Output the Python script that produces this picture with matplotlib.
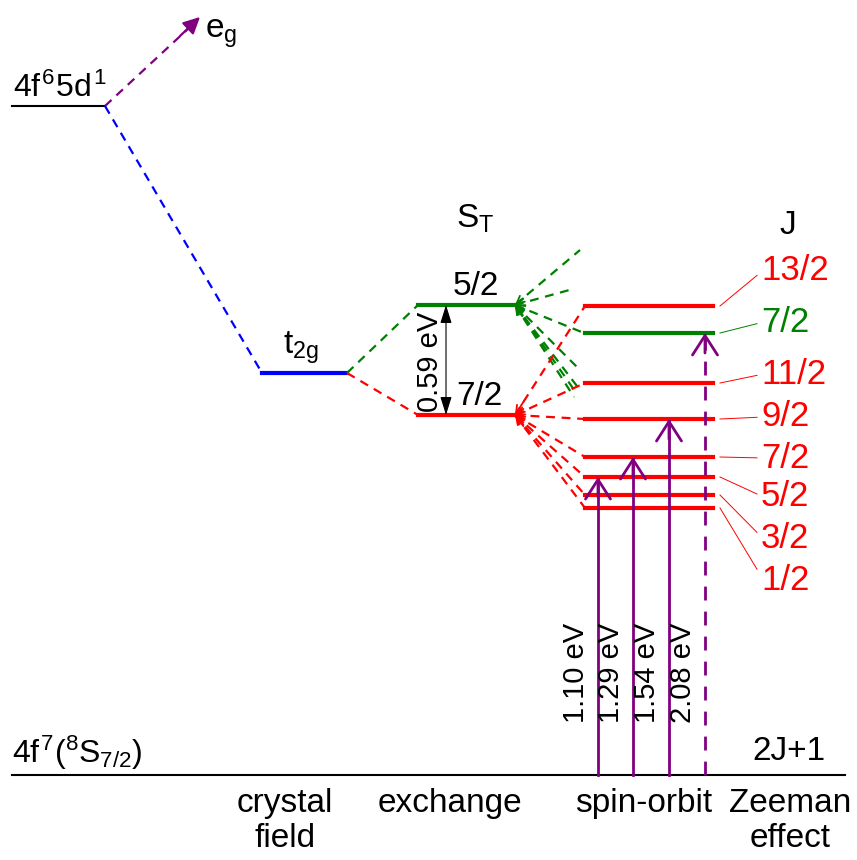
import matplotlib
matplotlib.use('Agg')
import matplotlib.pyplot as plt

plt.rcParams['font.family'] = ['Liberation Sans', 'DejaVu Sans']
plt.rcParams['mathtext.fontset'] = 'custom'
plt.rcParams['mathtext.rm'] = 'Liberation Sans'
plt.rcParams['mathtext.it'] = 'Liberation Sans'
plt.rcParams['mathtext.bf'] = 'Liberation Sans:bold'

RED = '#ff0000'
GREEN = '#008000'
BLUE = '#0000ff'
PURPLE = '#800080'

# --- level scheme (vertical position in picture units, top = 0) ---
y_5d = 106          # 4f6 5d1
y_ground = 775      # 4f7 (8S7/2)
y_t2g = 373
exch_labels = ['5/2', '7/2']
exch_y = [305, 415]
exch_colors = [GREEN, RED]

# spin-orbit levels J
so_labels = ['13/2', '7/2', '11/2', '9/2', '7/2', '5/2', '3/2', '1/2']
so_y = [306, 333, 383, 419, 457, 477, 495, 508]
so_colors = [RED, GREEN, RED, RED, RED, RED, RED, RED]
so_label_y = [270, 322, 374, 417, 458, 497, 539, 580]

# dashed fan from the exchange levels
red_fan_targets = [0, 2, 3, 4, 5, 6, 7]          # index in so_y
green_fan_ends = [(580, 250), (573, 289), (584, 333), (578, 368),
                  (580, 390), (577, 394), (574, 397)]

# optical transitions
trans_labels = ['1.10 eV', '1.29 eV', '1.54 eV', '2.08 eV']
trans_x = [598, 633, 669, 705]
trans_to = [5, 4, 3, 1]
trans_dashed = [False, False, False, True]

step_labels = ['crystal\nfield', 'exchange', 'spin-orbit', 'Zeeman\neffect']
step_x = [285, 450, 644, 790]

FS = 24
DASH = (0, (4, 3))

fig = plt.figure(figsize=(8.57, 8.60), dpi=100)
ax = fig.add_axes([0, 0, 1, 1])
ax.set_xlim(0, 857)
ax.set_ylim(860, 0)
ax.axis('off')


def head(x0, y0, x1, y1, color, filled=False, lw=1.6, scale=18):
    # arrow head at (x1, y1), pointing from (x0, y0)
    style = '-|>' if filled else '->'
    ax.annotate('', xy=(x1, y1), xytext=(x0, y0),
                arrowprops=dict(arrowstyle=style + ',head_length=0.5,head_width=0.25',
                                color=color, lw=lw, mutation_scale=scale,
                                shrinkA=0, shrinkB=0))


# left side levels
ax.plot([12, 105], [y_5d, y_5d], color='k', lw=1.5)
ax.plot([12, 845], [y_ground, y_ground], color='k', lw=1.5)
ax.text(13, 97, r'$4f^{6}5d^{1}$', fontsize=FS - 1, ha='left', va='baseline')
ax.text(12, 763, r'$4f^{7}(^{8}S_{7/2})$', fontsize=FS - 1, ha='left', va='baseline')

# e_g
ax.plot([105, 190], [y_5d, 27], color=PURPLE, lw=1.6, ls=DASH)
head(180, 36, 200, 17, PURPLE, filled=True, scale=20)
ax.text(205, 38, r'$e_{g}$', fontsize=FS, ha='left', va='baseline')

# t2g
ax.plot([105, 262], [y_5d, y_t2g], color=BLUE, lw=1.6, ls=DASH)
ax.plot([262, 347], [y_t2g, y_t2g], color=BLUE, lw=3)
ax.text(283, 354, r'$t_{2g}$', fontsize=FS, ha='left', va='baseline')

# exchange levels
for lab, y, c in zip(exch_labels, exch_y, exch_colors):
    ax.plot([347, 418], [y_t2g, y], color=c, lw=1.6, ls=DASH)
    ax.plot([418, 515], [y, y], color=c, lw=3)
ax.text(453, 295, exch_labels[0], fontsize=FS, ha='left', va='baseline')
ax.text(456, 405, exch_labels[1], fontsize=FS, ha='left', va='baseline')
ax.text(456, 228, r'$S_{T}$', fontsize=FS, ha='left', va='baseline')

ax.annotate('', xy=(446, exch_y[0]), xytext=(446, exch_y[1]),
            arrowprops=dict(arrowstyle='<|-|>,head_length=0.8,head_width=0.25',
                            color='k', lw=0.8, mutation_scale=14,
                            shrinkA=0, shrinkB=0))
ax.text(430, 362, '0.59 eV', fontsize=21, rotation=90, ha='center', va='center')

# dashed fans
for ex, ey in green_fan_ends:
    ax.plot([515, ex], [exch_y[0], ey], color=GREEN, lw=1.6, ls=DASH)
    head(515 + (ex - 515) * 0.12, exch_y[0] + (ey - exch_y[0]) * 0.12,
         515, exch_y[0], GREEN, lw=1.3, scale=11)
for i in red_fan_targets:
    ax.plot([515, 585], [exch_y[1], so_y[i]], color=RED, lw=1.6, ls=DASH)
    head(515 + 70 * 0.12, exch_y[1] + (so_y[i] - exch_y[1]) * 0.12,
         515, exch_y[1], RED, lw=1.3, scale=11)

# spin-orbit levels and J labels
for lab, y, c, ly in zip(so_labels, so_y, so_colors, so_label_y):
    ax.plot([585, 713], [y, y], color=c, lw=3)
    ax.plot([720, 757], [y, ly + (y - ly) * 0.15], color=c, lw=0.7)
    ax.text(761, ly, lab, fontsize=FS + 1, color=c, ha='left', va='center')
ax.text(788, 234, 'J', fontsize=FS, ha='center', va='baseline')
ax.text(789, 760, '2J+1', fontsize=FS, ha='center', va='baseline')

# transitions
for lab, x, t, d in zip(trans_labels, trans_x, trans_to, trans_dashed):
    ty = so_y[t]
    ax.plot([x, x], [y_ground, ty + 2], color=PURPLE, lw=2,
            ls=(0, (5, 4)) if d else '-')
    ax.annotate('', xy=(x, ty), xytext=(x, ty + 20),
                arrowprops=dict(arrowstyle='->,head_length=0.7,head_width=0.45',
                                color=PURPLE, lw=2, mutation_scale=20,
                                shrinkA=0, shrinkB=0))
    ax.text(x - 22, 723, lab, fontsize=21, rotation=90, ha='center', va='bottom')

# step labels
for lab, x in zip(step_labels, step_x):
    ax.text(x, 788, lab, fontsize=FS, ha='center', va='top', linespacing=1.15)

fig.savefig('out.png', dpi=100)
